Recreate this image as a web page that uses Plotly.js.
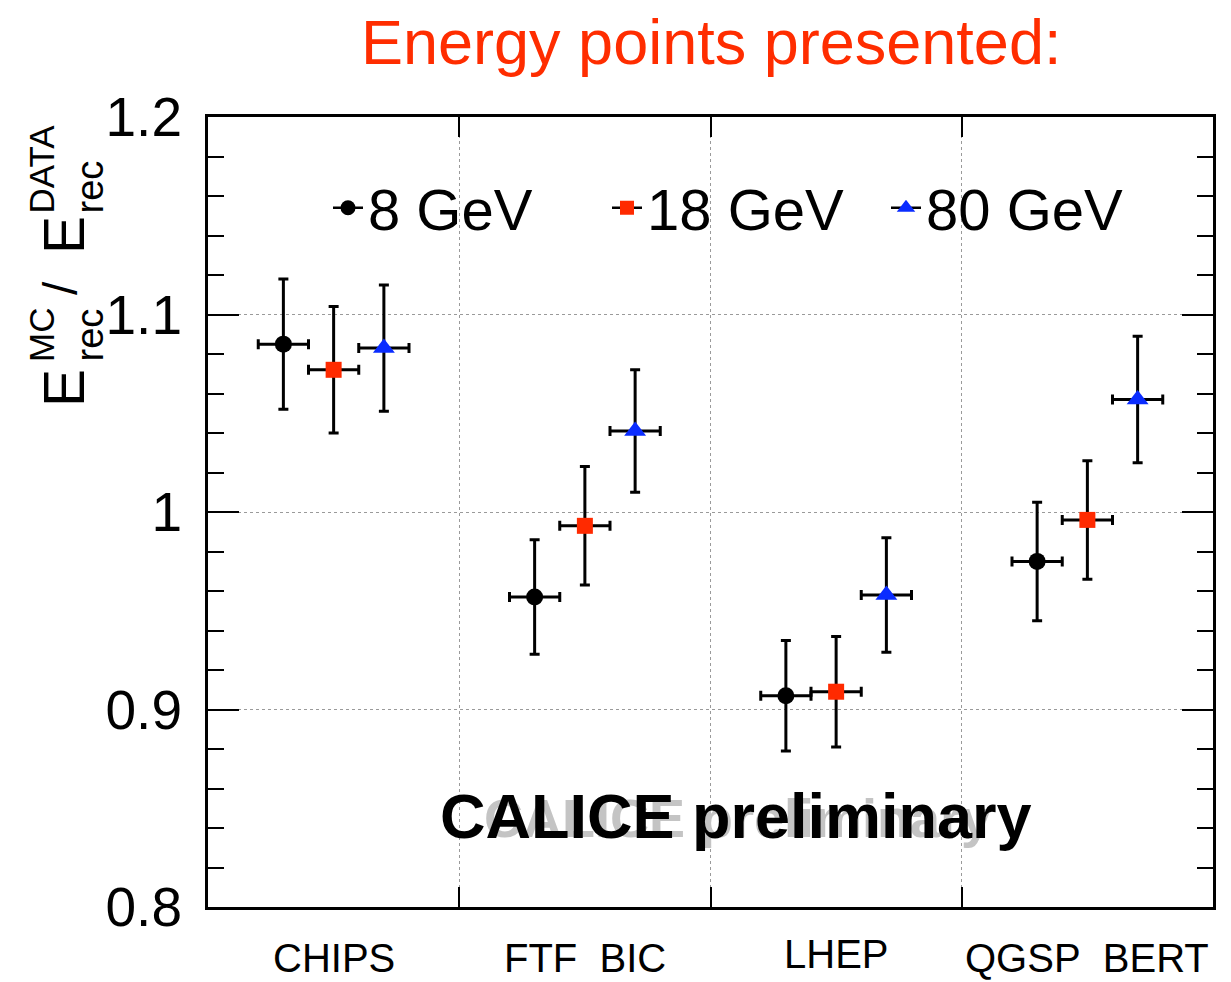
<!DOCTYPE html>
<html>
<head>
<meta charset="utf-8">
<script src="https://cdn.plot.ly/plotly-3.0.1.min.js"></script>
<style>html,body{margin:0;padding:0;background:#fff;}#chart{width:1231px;height:982px;}</style>
</head>
<body>
<div id="chart"></div>
<script>
// Physics lists (bins) and the three beam energies
const categories = ["CHIPS", "FTF\u00a0\u00a0BIC", "LHEP", "QGSP\u00a0\u00a0BERT"];
const categoryCenters = [0.5, 1.5, 2.5, 3.5];
const energyLabels = ["8 GeV", "18 GeV", "80 GeV"];

// x position of each point inside its bin
const x8  = [0.3, 1.3, 2.3, 3.3];
const x18 = [0.5, 1.5, 2.5, 3.5];
const x80 = [0.7, 1.7, 2.7, 3.7];

// E_rec^MC / E_rec^DATA
const y8  = [1.085, 0.957, 0.907, 0.975];
const y18 = [1.072, 0.993, 0.909, 0.996];
const y80 = [1.083, 1.041, 0.958, 1.057];

// uncertainties
const ey8  = [0.033, 0.029, 0.028, 0.030];
const ey18 = [0.032, 0.030, 0.028, 0.030];
const ey80 = [0.032, 0.031, 0.029, 0.032];
const ex = [0.1, 0.1, 0.1, 0.1];

const colors = ["#000000", "#ff2a00", "#0a2cff"];
const symbols = ["circle", "square", "triangle-up"];
const sizes = [17, 16, 19];

const xs = [x8, x18, x80];
const ys = [y8, y18, y80];
const eys = [ey8, ey18, ey80];

const traces = [];
for (let k = 0; k < 3; k++) {
  traces.push({
    type: "scatter", mode: "markers",
    x: xs[k], y: ys[k],
    showlegend: false,
    marker: {symbol: symbols[k], size: sizes[k], color: colors[k], line: {width: 0}},
    error_y: {type: "data", array: eys[k], visible: true, color: "#000", thickness: 3, width: 5},
    error_x: {type: "data", array: ex, visible: true, color: "#000", thickness: 3, width: 5},
    hoverinfo: "x+y"
  });
}
// legend entries
for (let k = 0; k < 3; k++) {
  traces.push({
    type: "scatter", mode: "lines+markers",
    x: [null], y: [null],
    name: energyLabels[k],
    line: {color: "#000", width: 2.5},
    marker: {symbol: symbols[k], size: sizes[k] - 2, color: colors[k]},
    showlegend: true
  });
}

const L = 208, R = 1213, T = 117, B = 907;
const px = v => (v - L) / (R - L);
const py = v => (B - v) / (B - T);

const FONT = "Liberation Sans, Arial, Helvetica, sans-serif";

const annotations = [];
categories.forEach((c, i) => {
  annotations.push({
    xref: "x", yref: "paper", x: categoryCenters[i], y: py(i === 2 ? 954 : 958),
    text: c, showarrow: false, xanchor: "center", yanchor: "middle",
    font: {family: FONT, size: 40, color: "#000"}
  });
});
// title
annotations.push({xref: "paper", yref: "paper", x: px(711), y: py(42), text: "Energy points presented:",
  showarrow: false, xanchor: "center", yanchor: "middle", font: {family: FONT, size: 63, color: "#ff2d00"}});
// ghost + main label
annotations.push({xref: "paper", yref: "paper", x: px(737), y: py(818), text: "<b>CALICE preliminary</b>",
  showarrow: false, xanchor: "center", yanchor: "middle", font: {family: FONT, size: 54, color: "#c4c4c4"}});
annotations.push({xref: "paper", yref: "paper", x: px(736), y: py(816), text: "<b>CALICE preliminary</b>",
  showarrow: false, xanchor: "center", yanchor: "middle", font: {family: FONT, size: 63, color: "#000"}});
// y axis title pieces (stacked sub/sup like ROOT)
const yt = (txt, cx, bottom, size) => ({xref: "paper", yref: "paper", x: px(cx), y: py(bottom), text: txt,
  textangle: -90, showarrow: false, xanchor: "center", yanchor: "bottom", font: {family: FONT, size: size, color: "#000"}});
annotations.push(yt("E", 64, 409, 57));
annotations.push(yt("rec", 89, 364, 38));
annotations.push(yt("MC", 41, 364, 35));
annotations.push(yt("/", 60, 297, 48));
annotations.push(yt("E", 64, 256, 57));
annotations.push(yt("rec", 89, 216, 38));
annotations.push(yt("DATA", 41, 216, 35));

const layout = {
  width: 1231, height: 982,
  margin: {l: L, r: 1231 - R, t: T, b: 982 - B, pad: 0},
  paper_bgcolor: "#fff", plot_bgcolor: "#fff",
  font: {family: FONT, color: "#000"},
  showlegend: true,
  legend: {orientation: "h", x: px(328), xanchor: "left", y: py(208), yanchor: "middle",
    font: {family: FONT, size: 58, color: "#000"}, bgcolor: "rgba(0,0,0,0)",
    entrywidth: 234, entrywidthmode: "pixels", itemwidth: 30, tracegroupgap: 0},
  xaxis: {range: [0, 4], showline: true, linecolor: "#000", linewidth: 3, mirror: "ticks",
    tickvals: [1, 2, 3], ticks: "inside", ticklen: 20, tickwidth: 2, tickcolor: "#000",
    showticklabels: false, showgrid: true, gridcolor: "#9a9a9a", griddash: "dot", gridwidth: 1,
    zeroline: false, fixedrange: true},
  yaxis: {range: [0.8, 1.2], showline: true, linecolor: "#000", linewidth: 3, mirror: "ticks",
    tickmode: "array", ticks: "inside", ticklen: 31, tickwidth: 2, tickcolor: "#000",
    tickvals: [0.8, 0.9, 1.0, 1.1, 1.2], ticktext: ["0.8", "0.9", "1", "1.1", "1.2"],
    tickfont: {family: FONT, size: 55, color: "#000"}, ticklabelstandoff: 12,
    minor: {dtick: 0.02, tick0: 0.8, ticks: "inside", ticklen: 16, tickwidth: 2, tickcolor: "#000", showgrid: false},
    showgrid: true, gridcolor: "#9a9a9a", griddash: "dot", gridwidth: 1, zeroline: false, fixedrange: true},
  annotations: annotations
};

Plotly.newPlot("chart", traces, layout, {staticPlot: true, displayModeBar: false});
</script>
</body>
</html>
